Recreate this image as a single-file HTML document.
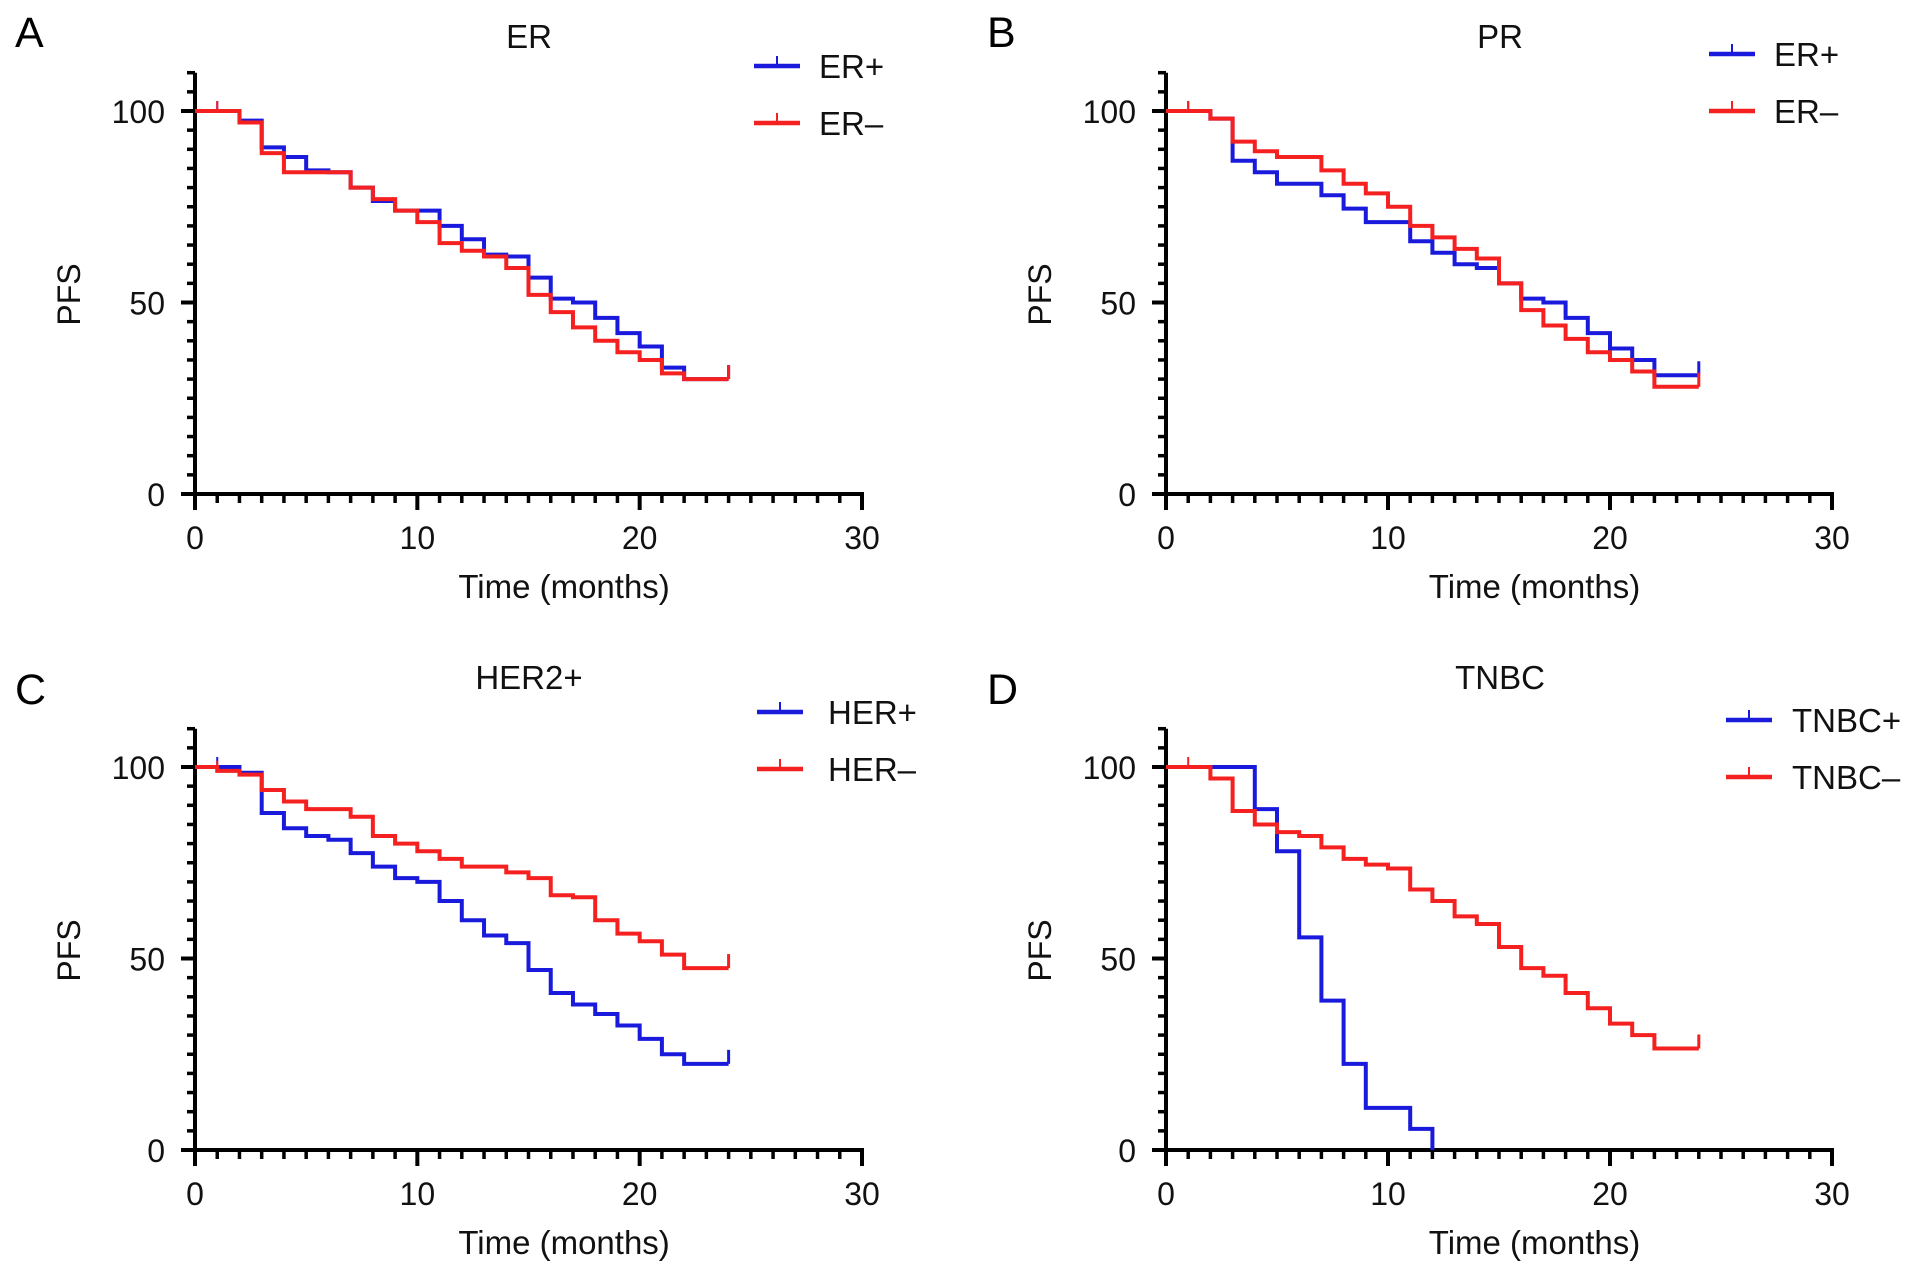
<!DOCTYPE html>
<html><head><meta charset="utf-8"><style>
html,body{margin:0;padding:0;background:#fff;}
svg{display:block;font-family:"Liberation Sans",Arial,sans-serif;}
</style></head><body>
<svg id="fig" width="1914" height="1276" viewBox="0 0 1914 1276"></svg>
<script>
const months = [0,1,2,3,4,5,6,7,8,9,10,11,12,13,14,15,16,17,18,19,20,21,22,23,24];
const xTicks = [0,10,20,30];
const yTicks = [0,50,100];
const erPos  = [100,100,97.5,90.5,88,84.5,84,80,76.5,74,74,70,66.5,62.5,62,56.5,51,50,46,42,38.5,33,30,30,30];
const erNeg  = [100,100,97,89,84,84,84,80,77,74,71,65.5,63.5,62,59,52,47.5,43.5,40,37,35,31.5,30,30,30];
const prPos  = [100,100,98,87,84,81,81,78,74.5,71,71,66,63,60,59,55,51,50,46,42,38,35,31,31,31];
const prNeg  = [100,100,98,92,89.5,88,88,84.5,81,78.5,75,70,67,64,61.5,55,48,44,40.5,37,35,32,28,28,28];
const herPos = [100,100,98.5,88,84,82,81,77.5,74,71,70,65,60,56,54,47,41,38,35.5,32.5,29,25,22.5,22.5,22.5];
const herNeg = [100,99,98,94,91,89,89,87,82,80,78,76,74,74,72.5,71,66.5,66,60,56.5,54.5,51,47.5,47.5,47.5];
const tnbcPos= [100,100,100,100,89,78,55.5,39,22.5,11,11,5.5,0];
const tnbcNeg= [100,100,97,88.5,85,83,82,79,76,74.5,73.5,68,65,61,59,53,47.5,45.5,41,37,33,30,26.5,26.5,26.5];

const NS="http://www.w3.org/2000/svg";
const svg=document.getElementById('fig');
function mk(tag,attrs,parent){const e=document.createElementNS(NS,tag);for(const k in attrs)e.setAttribute(k,attrs[k]);(parent||svg).appendChild(e);return e;}

const panels=[
 {id:'a',letter:'A',title:'ER',x0:195,x1:862,y100:111,y0:494,lx:33,ly:47,tx:529,ty:48,
  leg:{x:754,y:66,dy:57,tx:819},names:['ER+','ER\u2013'],s:[erPos,erNeg]},
 {id:'b',letter:'B',title:'PR',x0:1166,x1:1832,y100:111,y0:494,lx:1005,ly:47,tx:1500,ty:48,
  leg:{x:1709,y:54,dy:57,tx:1774},names:['ER+','ER\u2013'],s:[prPos,prNeg]},
 {id:'c',letter:'C',title:'HER2+',x0:195,x1:862,y100:767,y0:1150,lx:33,ly:704,tx:529,ty:689,
  leg:{x:757,y:712,dy:57,tx:828},names:['HER+','HER\u2013'],s:[herPos,herNeg]},
 {id:'d',letter:'D',title:'TNBC',x0:1166,x1:1832,y100:767,y0:1150,lx:1005,ly:704,tx:1500,ty:689,
  leg:{x:1726,y:720,dy:57,tx:1792},names:['TNBC+','TNBC\u2013'],s:[tnbcPos,tnbcNeg]}
];
const colors=['#1a1adc','#f52020'];

panels.forEach(p=>{
  const g=mk('g',{});
  
  
  const X=t=>p.x0+(p.x1-p.x0)*t/30;
  const Y=v=>p.y0+(p.y100-p.y0)*v/100;
  const lt=mk('text',{x:p.lx-18,y:p.ly,'font-size':43,fill:'#000'},g);lt.textContent=p.letter;
  
  const tt=mk('text',{x:p.tx,y:p.ty,'font-size':33,'text-anchor':'middle',fill:'#111'},g);tt.textContent=p.title;
  
  const ax=mk('g',{stroke:'#000','stroke-width':4,fill:'none'},g);
  
  const yTop=Y(110);
  mk('line',{x1:X(0),y1:yTop,x2:X(0),y2:Y(0)+2},ax);
  mk('line',{x1:X(0)-2,y1:Y(0),x2:X(30)+2,y2:Y(0)},ax);
  for(let v=0;v<=110;v+=5){const maj=v%50===0;mk('line',{x1:X(0)-(maj?14:8),y1:Y(v),x2:X(0),y2:Y(v),'stroke-width':maj?4:3.5},ax);}
  for(let t=0;t<=30;t++){const maj=t%10===0;mk('line',{x1:X(t),y1:Y(0),x2:X(t),y2:Y(0)+(maj?16:9),'stroke-width':maj?4:3.5},ax);}
  yTicks.forEach(v=>{const e=mk('text',{x:X(0)-30,y:Y(v)+12,'font-size':32,'text-anchor':'end',fill:'#111'},g);e.textContent=v;
    });
  xTicks.forEach(t=>{const e=mk('text',{x:X(t),y:Y(0)+55,'font-size':32,'text-anchor':'middle',fill:'#111'},g);e.textContent=t;
    });
  const xt=mk('text',{x:X(16.6),y:Y(0)+104,'font-size':33,'text-anchor':'middle',fill:'#111'},g);xt.textContent='Time (months)';
  
  const yc=(Y(0)+Y(100))/2-8;
  const yt=mk('text',{x:X(0)-115,y:yc,'font-size':32,'text-anchor':'middle',fill:'#111',transform:`rotate(-90 ${X(0)-115} ${yc})`},g);yt.textContent='PFS';
  
  p.s.forEach((vals,si)=>{
    let d=`M${X(months[0])},${Y(vals[0])}`;
    for(let i=1;i<vals.length;i++){d+=` H${X(months[i])} V${Y(vals[i])}`;}
    const last=vals.length-1;
    const path=mk('path',{d:d,stroke:colors[si],'stroke-width':4,fill:'none','stroke-linejoin':'miter'},g);
    
    
    if(vals[last]>0){
      const c=mk('line',{x1:X(months[last]),y1:Y(vals[last]),x2:X(months[last]),y2:Y(vals[last])-14,stroke:colors[si],'stroke-width':3},g);
      
      const c2=mk('line',{x1:X(1),y1:Y(vals[1]),x2:X(1),y2:Y(vals[1])-10,stroke:colors[si],'stroke-width':2},g);
      
    }
    const ly=p.leg.y+si*p.leg.dy;
    const lg=mk('g',{},g);
    
    mk('line',{x1:p.leg.x,y1:ly,x2:p.leg.x+46,y2:ly,stroke:colors[si],'stroke-width':4.5},lg);
    mk('line',{x1:p.leg.x+23,y1:ly,x2:p.leg.x+23,y2:ly-10,stroke:colors[si],'stroke-width':2},lg);
    const lt2=mk('text',{x:p.leg.tx,y:ly+12,'font-size':33,fill:'#111'},lg);lt2.textContent=p.names[si];
  });
});
</script>
</body></html>
